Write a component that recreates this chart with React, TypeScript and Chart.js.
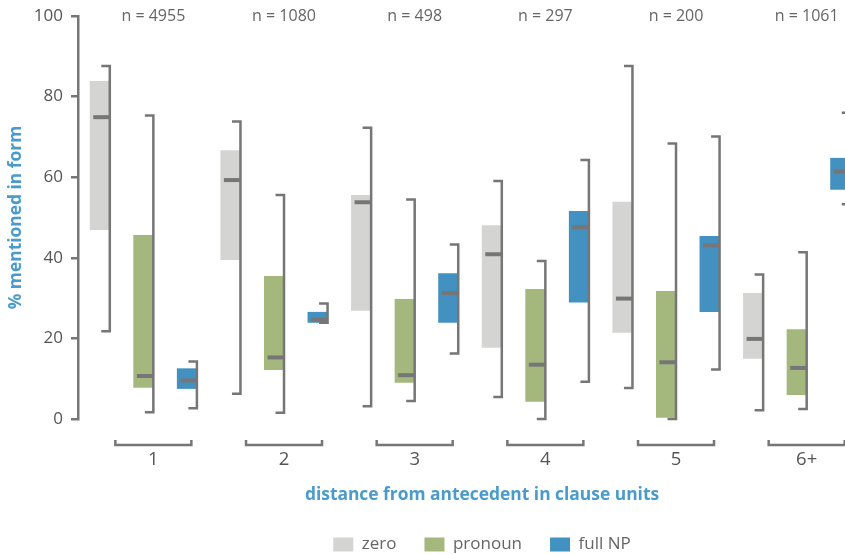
import React, { useEffect, useRef } from "react";
import { Chart, registerables } from "chart.js";

Chart.register(...registerables);

const categories = ["1", "2", "3", "4", "5", "6+"];
const sampleSizes = ["n = 4955", "n = 1080", "n = 498", "n = 297", "n = 200", "n = 1061"];
const seriesNames = ["zero", "pronoun", "full NP"];
const yTicks = [0, 20, 40, 60, 80, 100];

const zeroQ1 = [46.9, 39.5, 26.9, 17.7, 21.4, 15.0];
const zeroQ3 = [83.9, 66.7, 55.6, 48.1, 53.9, 31.3];
const zeroMedian = [74.9, 59.3, 53.8, 40.9, 29.9, 19.9];
const zeroMin = [21.8, 6.3, 3.2, 5.5, 7.7, 2.2];
const zeroMax = [87.6, 73.8, 72.3, 59.1, 87.6, 35.9];

const pronounQ1 = [7.8, 12.2, 9.0, 4.3, 0, 6.0];
const pronounQ3 = [45.7, 35.5, 29.8, 32.3, 31.8, 22.3];
const pronounMedian = [10.7, 15.3, 10.9, 13.5, 14.1, 12.7];
const pronounMin = [1.7, 1.6, 4.5, 0, 0, 2.5];
const pronounMax = [75.3, 55.6, 54.5, 39.2, 68.4, 41.4];

const fullNPQ1 = [7.5, 23.9, 23.9, 28.9, 26.6, 56.9];
const fullNPQ3 = [12.6, 26.6, 36.2, 51.6, 45.4, 64.8];
const fullNPMedian = [9.6, 24.7, 31.3, 47.6, 43.1, 61.4];
const fullNPMin = [2.7, 23.9, 16.3, 9.3, 12.3, 53.3];
const fullNPMax = [14.3, 28.7, 43.3, 64.3, 70.1, 76.0];

const FONT = "'Open Sans', 'DejaVu Sans', sans-serif";
const colors = ["#d4d4d2", "#a4b87e", "#4391c0"];
const INK = "#767676";
const BLUE = "#4a9bcb";

const stats = [
  { q1: zeroQ1, q3: zeroQ3, med: zeroMedian, min: zeroMin, max: zeroMax },
  { q1: pronounQ1, q3: pronounQ3, med: pronounMedian, min: pronounMin, max: pronounMax },
  { q1: fullNPQ1, q3: fullNPQ3, med: fullNPMedian, min: fullNPMin, max: fullNPMax },
];

const boxPlugin = {
  id: "boxExtras",
  afterDatasetsDraw(chart: any) {
    const ctx = chart.ctx;
    const y = chart.scales.y;
    const area = chart.chartArea;
    ctx.save();
    ctx.strokeStyle = INK;
    ctx.lineJoin = "miter";
    ctx.lineCap = "butt";
    stats.forEach((s, di) => {
      const meta = chart.getDatasetMeta(di);
      meta.data.forEach((bar: any, i: number) => {
        const { x, width } = bar.getProps(["x", "width"], true);
        const right = x + width / 2;
        const left = x - width / 2;
        const yHi = y.getPixelForValue(s.max[i]);
        const yLo = y.getPixelForValue(s.min[i]);
        ctx.lineWidth = 2.5;
        ctx.beginPath();
        ctx.moveTo(right - 8.5, yHi);
        ctx.lineTo(right, yHi);
        ctx.lineTo(right, yLo);
        ctx.lineTo(right - 8.5, yLo);
        ctx.stroke();
        const ym = y.getPixelForValue(s.med[i]);
        ctx.lineWidth = 4;
        ctx.beginPath();
        ctx.moveTo(left + 3.5, ym);
        ctx.lineTo(right, ym);
        ctx.stroke();
      });
    });
    const mid = chart.getDatasetMeta(1);
    mid.data.forEach((bar: any, i: number) => {
      const { x, width } = bar.getProps(["x", "width"], true);
      const cx = x + width / 2;
      const top = area.bottom + 21;
      const bot = area.bottom + 26;
      ctx.lineWidth = 2.5;
      ctx.beginPath();
      ctx.moveTo(cx - 38, top);
      ctx.lineTo(cx - 38, bot);
      ctx.lineTo(cx + 38, bot);
      ctx.lineTo(cx + 38, top);
      ctx.stroke();
      ctx.fillStyle = "#666";
      ctx.font = `16px ${FONT}`;
      ctx.textAlign = "center";
      ctx.textBaseline = "middle";
      ctx.fillText(sampleSizes[i], cx, y.getPixelForValue(100));
    });
    ctx.restore();
  },
};

export default function App() {
  const ref = useRef<HTMLCanvasElement>(null);
  useEffect(() => {
    const chart = new Chart(ref.current as HTMLCanvasElement, {
      type: "bar",
      data: {
        labels: categories,
        datasets: stats.map((s, di) => ({
          label: seriesNames[di],
          data: categories.map((_, i) => [s.q1[i], s.q3[i]]),
          backgroundColor: colors[di],
          borderWidth: 0,
          barPercentage: 0.46,
          categoryPercentage: 1,
        })) as any,
      },
      options: {
        animation: false,
        responsive: false,
        devicePixelRatio: 1,
        layout: { padding: { top: 16, left: 0, right: 0, bottom: 0 } },
        plugins: {
          tooltip: { enabled: false },
          legend: {
            position: "bottom",
            labels: {
              boxWidth: 20,
              boxHeight: 14,
              padding: 28,
              color: "#666",
              font: { family: FONT, size: 17 },
            },
          },
          title: {
            display: true,
            position: "bottom",
            text: "distance from antecedent in clause units",
            color: BLUE,
            font: { family: FONT, size: 17.4, weight: "bold" },
            padding: { top: 10, bottom: 3 },
            weight: 500,
          } as any,
        },
        scales: {
          x: {
            type: "category",
            offset: true,
            grid: { display: false, drawTicks: false },
            border: { display: false },
            ticks: { color: "#555", font: { family: FONT, size: 18.5 }, padding: 30, labelOffset: 10 },
            afterFit: (s: any) => {
              s.height = 55;
            },
          },
          y: {
            type: "linear",
            min: 0,
            max: 100,
            afterBuildTicks: (s: any) => {
              s.ticks = yTicks.map((v) => ({ value: v }));
            },
            ticks: { color: "#555", font: { family: FONT, size: 17, lineHeight: 0.8 }, padding: 8 },
            grid: { drawOnChartArea: false, tickLength: 7, color: INK, lineWidth: 2.5 },
            border: { display: true, color: INK, width: 2.5 },
            title: {
              display: true,
              text: "% mentioned in form",
              color: BLUE,
              font: { family: FONT, size: 17.4, weight: "bold" },
              padding: { top: 6, bottom: 0 },
            },
            afterFit: (s: any) => {
              s.width = 78;
            },
          },
          yR: {
            type: "linear",
            position: "right",
            display: true,
            grid: { display: false, drawTicks: false },
            border: { display: false },
            ticks: { display: false },
            afterFit: (s: any) => {
              s.width = 102;
            },
          },
        },
      },
      plugins: [boxPlugin],
    });
    return () => chart.destroy();
  }, []);
  return (
    <div
      style={{
        position: "absolute",
        left: 0,
        top: 0,
        width: 845,
        height: 554,
        overflow: "hidden",
        background: "#fff",
      }}
    >
      <canvas ref={ref} width={964} height={563} style={{ display: "block", width: 964, height: 563 }} />
    </div>
  );
}
